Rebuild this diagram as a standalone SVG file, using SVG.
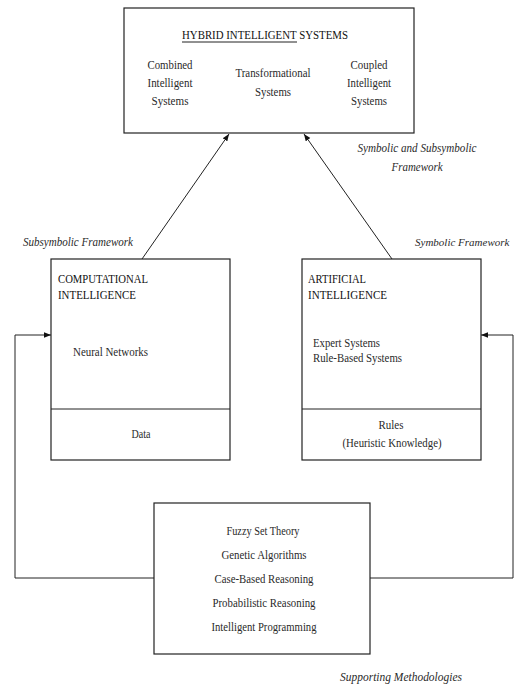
<svg xmlns="http://www.w3.org/2000/svg" width="529" height="688" viewBox="0 0 529 688">
<style>
text{font-family:"Liberation Serif","Times New Roman",serif;font-size:13.5px;fill:#2a2a2a}
.c{text-anchor:middle}
.i{font-style:italic}
.h{fill:#111}
.box{fill:#fff;stroke:#222;stroke-width:1.2}
.ln{fill:none;stroke:#222;stroke-width:1}
</style>
<defs>
<marker id="ah" viewBox="0 0 10 10" refX="10" refY="5" markerWidth="7" markerHeight="7" orient="auto" markerUnits="userSpaceOnUse">
<path d="M0,1 L10,5 L0,9 Z" fill="#111"/>
</marker>
</defs>
<rect width="529" height="688" fill="#fff"/>
<g id="connectors">
<line class="ln" x1="142" y1="259" x2="229" y2="134" marker-end="url(#ah)"/>
<line class="ln" x1="392" y1="259" x2="304" y2="134" marker-end="url(#ah)"/>
<polyline class="ln" points="154,578 15,578 15,335 51,335" marker-end="url(#ah)"/>
<polyline class="ln" points="370,578 513,578 513,335 481,335" marker-end="url(#ah)"/>
</g>
<g id="hybrid">
<rect class="box" x="124" y="8" width="290" height="125"/>
<text class="h" x="182" y="39" textLength="166" lengthAdjust="spacingAndGlyphs">HYBRID INTELLIGENT SYSTEMS</text>
<line class="ln" x1="182" y1="42" x2="297" y2="42"/>
<text class="c" x="170" y="69" textLength="45" lengthAdjust="spacingAndGlyphs">Combined</text>
<text class="c" x="170" y="87" textLength="45" lengthAdjust="spacingAndGlyphs">Intelligent</text>
<text class="c" x="170" y="105" textLength="37" lengthAdjust="spacingAndGlyphs">Systems</text>
<text class="c" x="273" y="77" textLength="75" lengthAdjust="spacingAndGlyphs">Transformational</text>
<text class="c" x="273" y="96" textLength="36" lengthAdjust="spacingAndGlyphs">Systems</text>
<text class="c" x="369" y="69" textLength="37" lengthAdjust="spacingAndGlyphs">Coupled</text>
<text class="c" x="369" y="87" textLength="44" lengthAdjust="spacingAndGlyphs">Intelligent</text>
<text class="c" x="369" y="105" textLength="36" lengthAdjust="spacingAndGlyphs">Systems</text>
</g>
<g id="labels">
<text class="c i" x="417" y="152" textLength="119" lengthAdjust="spacingAndGlyphs">Symbolic and Subsymbolic</text>
<text class="c i" x="417" y="171" textLength="51" lengthAdjust="spacingAndGlyphs">Framework</text>
<text class="i" x="23" y="246" textLength="110" lengthAdjust="spacingAndGlyphs">Subsymbolic Framework</text>
<text class="i" x="415" y="246" style="font-size:11px">Symbolic Framework</text>
<text class="i" x="340" y="681" textLength="122" lengthAdjust="spacingAndGlyphs">Supporting Methodologies</text>
</g>
<g id="ci">
<rect class="box" x="51" y="259" width="179" height="201"/>
<line class="ln" x1="51" y1="409" x2="230" y2="409"/>
<text class="h" x="58" y="283" textLength="90" lengthAdjust="spacingAndGlyphs">COMPUTATIONAL</text>
<text class="h" x="58" y="299" textLength="78" lengthAdjust="spacingAndGlyphs">INTELLIGENCE</text>
<text x="73" y="356" textLength="75" lengthAdjust="spacingAndGlyphs">Neural Networks</text>
<text class="c" x="141" y="438" textLength="19" lengthAdjust="spacingAndGlyphs">Data</text>
</g>
<g id="ai">
<rect class="box" x="302" y="259" width="179" height="201"/>
<line class="ln" x1="302" y1="409" x2="481" y2="409"/>
<text class="h" x="308" y="283" textLength="58" lengthAdjust="spacingAndGlyphs">ARTIFICIAL</text>
<text class="h" x="308" y="299" textLength="79" lengthAdjust="spacingAndGlyphs">INTELLIGENCE</text>
<text x="313" y="347" textLength="67" lengthAdjust="spacingAndGlyphs">Expert Systems</text>
<text x="313" y="362" textLength="89" lengthAdjust="spacingAndGlyphs">Rule-Based Systems</text>
<text class="c" x="391" y="429" textLength="25" lengthAdjust="spacingAndGlyphs">Rules</text>
<text class="c" x="392" y="447" textLength="99" lengthAdjust="spacingAndGlyphs">(Heuristic Knowledge)</text>
</g>
<g id="methods">
<rect class="box" x="154" y="503" width="216" height="151"/>
<text class="c" x="263" y="535" textLength="73" lengthAdjust="spacingAndGlyphs">Fuzzy Set Theory</text>
<text class="c" x="264" y="559" textLength="85" lengthAdjust="spacingAndGlyphs">Genetic Algorithms</text>
<text class="c" x="264" y="583" textLength="99" lengthAdjust="spacingAndGlyphs">Case-Based Reasoning</text>
<text class="c" x="264" y="607" textLength="103" lengthAdjust="spacingAndGlyphs">Probabilistic Reasoning</text>
<text class="c" x="264" y="631" textLength="105" lengthAdjust="spacingAndGlyphs">Intelligent Programming</text>
</g>
</svg>
